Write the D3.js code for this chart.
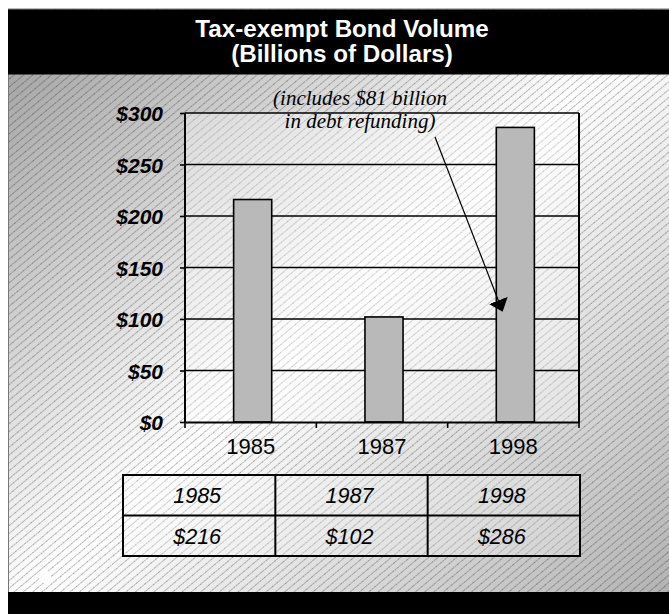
<!DOCTYPE html>
<html><head><meta charset="utf-8">
<script src="https://cdn.jsdelivr.net/npm/d3@7"></script>
<style>html,body{margin:0;padding:0;background:#fff;}svg{display:block;}</style>
</head><body>
<script>
const titleLines = ["Tax-exempt Bond Volume", "(Billions of Dollars)"];
const categories = ["1985", "1987", "1998"];
const values = [216, 102, 286];
const valueLabels = ["$216", "$102", "$286"];
const yTicks = [0, 50, 100, 150, 200, 250, 300];
const noteLines = ["(includes $81 billion", "in debt refunding)"];
const noteTarget = {cat: "1998", value: 108};

const W = 669, H = 614;
const svg = d3.select("body").append("svg").attr("width", W).attr("height", H);
const defs = svg.append("defs");

const grad = defs.append("linearGradient").attr("id", "bg").attr("x1", "0%").attr("y1", "0%").attr("x2", "100%").attr("y2", "100%");
grad.append("stop").attr("offset", "0%").attr("stop-color", "#9c9c9c");
grad.append("stop").attr("offset", "50%").attr("stop-color", "#ffffff");
grad.append("stop").attr("offset", "100%").attr("stop-color", "#b0b0b0");

const pat = defs.append("pattern").attr("id", "hatch").attr("patternUnits", "userSpaceOnUse")
  .attr("width", 6).attr("height", 6).attr("patternTransform", "rotate(50)");
pat.append("line").attr("x1", 0.5).attr("y1", 0).attr("x2", 0.5).attr("y2", 6)
  .attr("stroke", "rgba(0,0,0,0.32)").attr("stroke-width", 1).attr("stroke-dasharray", "1.5,0.8");

// background
svg.append("rect").attr("x", 8).attr("y", 9).attr("width", W - 8).attr("height", H - 9).attr("fill", "url(#bg)");
svg.append("rect").attr("x", 8).attr("y", 9).attr("width", W - 8).attr("height", H - 9).attr("fill", "url(#hatch)");
svg.append("line").attr("x1", 8.5).attr("x2", 8.5).attr("y1", 9).attr("y2", H).attr("stroke", "#777").attr("stroke-width", 1);
svg.append("line").attr("x1", 8).attr("x2", W).attr("y1", 9).attr("y2", 9).attr("stroke", "#777").attr("stroke-width", 1);

// title bar
svg.append("rect").attr("x", 8).attr("y", 9.5).attr("width", W - 8).attr("height", 65).attr("fill", "#000");
svg.append("text").attr("x", 342).attr("y", 37).attr("text-anchor", "middle")
  .attr("font-family", "Liberation Sans, Arial, sans-serif").attr("font-weight", "bold").attr("font-size", 24.2)
  .attr("fill", "#fff")
  .selectAll("tspan").data(titleLines).join("tspan")
  .attr("x", 342).attr("dy", (d, i) => i === 0 ? 0 : 25).text(d => d);

// bottom bar
svg.append("rect").attr("x", 8).attr("y", 592).attr("width", W - 8).attr("height", H - 592).attr("fill", "#000");
// small white blob
svg.append("rect").attr("x", 39).attr("y", 571).attr("width", 12).attr("height", 12).attr("rx", 4).attr("fill", "#fff").attr("opacity", 0.9);

// scales
const x = d3.scaleBand().domain(categories).range([185, 579]).paddingInner(0.71).paddingOuter(0.355);
const y = d3.scaleLinear().domain([0, 300]).range([422, 113]);

// plot area
svg.append("rect").attr("x", 185).attr("y", y(300)).attr("width", 394).attr("height", y(0) - y(300))
  .attr("fill", "rgba(255,255,255,0.35)");

// gridlines
svg.append("g").selectAll("line").data(yTicks.filter(d => d > 0)).join("line")
  .attr("x1", 185).attr("x2", 579).attr("y1", d => y(d)).attr("y2", d => y(d))
  .attr("stroke", "#000").attr("stroke-width", 1.6);
// right border
svg.append("line").attr("x1", 579).attr("x2", 579).attr("y1", y(300)).attr("y2", y(0))
  .attr("stroke", "#000").attr("stroke-width", 2);

// bars
const barShift = 2;
svg.append("g").selectAll("rect").data(values).join("rect")
  .attr("x", (d, i) => x(categories[i]) + barShift)
  .attr("width", x.bandwidth())
  .attr("y", d => y(d))
  .attr("height", d => y(0) - y(d))
  .attr("fill", "#b9b9b9").attr("stroke", "#000").attr("stroke-width", 1.6);

// y axis
const yAxis = svg.append("g").attr("transform", "translate(185,0)")
  .call(d3.axisLeft(y).tickValues(yTicks).tickSize(5).tickPadding(17).tickFormat(d => "$" + d));
yAxis.select(".domain").attr("stroke", "#000").attr("stroke-width", 2).attr("d", `M0,${y(300)}V${y(0)}`);
yAxis.selectAll(".tick line").attr("stroke", "#000").attr("stroke-width", 1.6);
yAxis.selectAll("text").attr("font-family", "Liberation Sans, Arial, sans-serif").attr("font-weight", "bold")
  .attr("font-style", "italic").attr("font-size", 21).attr("fill", "#000").attr("dy", "0.36em");

// x axis
const xAxis = svg.append("g").attr("transform", `translate(0,${y(0)})`)
  .call(d3.axisBottom(x).tickSize(0).tickPadding(16));
xAxis.select(".domain").attr("stroke", "#000").attr("stroke-width", 2);
xAxis.selectAll("text").attr("font-family", "Liberation Sans, Arial, sans-serif").attr("font-size", 22).attr("fill", "#000");
// category boundary ticks
const bounds = [185].concat(categories.slice(1).map(c => x(c) - x.step() * x.paddingInner() / 2), [579]);
xAxis.append("g").selectAll("line").data(bounds).join("line")
  .attr("x1", d => d).attr("x2", d => d).attr("y1", 0).attr("y2", 6)
  .attr("stroke", "#000").attr("stroke-width", 1.6);

// annotation
const note = svg.append("text").attr("text-anchor", "middle")
  .attr("font-family", "Liberation Serif, Times New Roman, serif").attr("font-style", "italic")
  .attr("font-size", 21).attr("fill", "#000");
note.selectAll("tspan").data(noteLines).join("tspan")
  .attr("x", 360).attr("y", (d, i) => 105 + i * 23).text(d => d);

defs.append("marker").attr("id", "ah").attr("viewBox", "0 0 12 20").attr("refX", 11).attr("refY", 10)
  .attr("markerWidth", 12).attr("markerHeight", 20).attr("markerUnits", "userSpaceOnUse").attr("orient", "auto")
  .append("path").attr("d", "M0,0L12,10L0,20Z").attr("fill", "#000");
const tipX = x(noteTarget.cat) + barShift + 6;
const tipY = y(noteTarget.value);
svg.append("line").attr("x1", 435).attr("y1", 137).attr("x2", tipX).attr("y2", tipY)
  .attr("stroke", "#000").attr("stroke-width", 1.2).attr("marker-end", "url(#ah)");

// data table
const tx = d3.scaleBand().domain(categories).range([123, 580]);
const rowY = d3.scaleBand().domain(["year", "value"]).range([475, 556]);
const table = svg.append("g");
table.append("rect").attr("x", 123).attr("y", 475).attr("width", 457).attr("height", 81)
  .attr("fill", "rgba(255,255,255,0.25)").attr("stroke", "#000").attr("stroke-width", 2);
table.append("line").attr("x1", 123).attr("x2", 580).attr("y1", rowY("value")).attr("y2", rowY("value"))
  .attr("stroke", "#000").attr("stroke-width", 2);
table.selectAll(".col").data(categories.slice(1)).join("line").attr("class", "col")
  .attr("x1", d => tx(d)).attr("x2", d => tx(d)).attr("y1", 475).attr("y2", 556)
  .attr("stroke", "#000").attr("stroke-width", 2);
const cellFont = sel => sel.attr("font-family", "Liberation Sans, Arial, sans-serif").attr("font-style", "italic")
  .attr("font-size", 21.5).attr("fill", "#000").attr("text-anchor", "middle");
table.selectAll(".yr").data(categories).join("text").attr("class", "yr").call(cellFont)
  .attr("x", d => tx(d) + tx.bandwidth() / 2 - 2).attr("y", rowY("year") + 28).text(d => d);
table.selectAll(".val").data(valueLabels).join("text").attr("class", "val").call(cellFont)
  .attr("x", (d, i) => tx(categories[i]) + tx.bandwidth() / 2 - 2).attr("y", rowY("value") + 28).text(d => d);
</script>
</body></html>
